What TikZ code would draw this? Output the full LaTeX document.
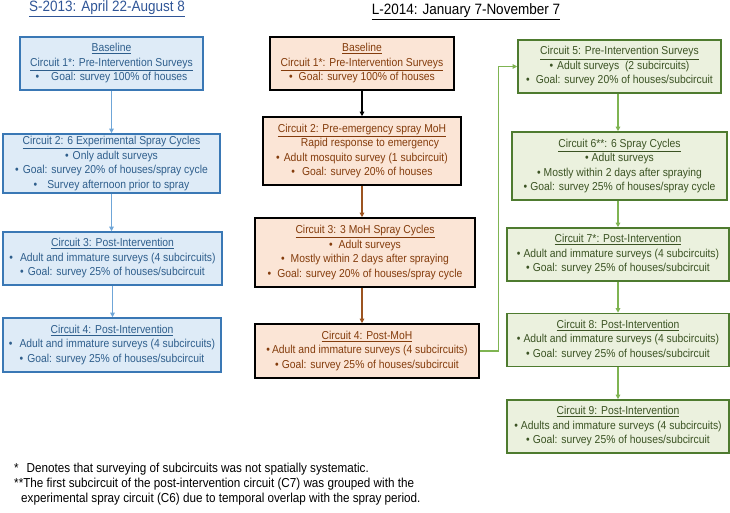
\documentclass[tikz,border=0pt]{standalone}
\usepackage{fontspec}
\setmainfont[FakeStretch=0.9]{Liberation Sans}
\usepackage{tikz}
\usetikzlibrary{arrows.meta}

\definecolor{sfill}{HTML}{DEEBF7}
\definecolor{sline}{HTML}{3A78B5}
\definecolor{stext}{HTML}{2E5E8C}
\definecolor{stitle}{HTML}{2F5597}
\definecolor{sarrow}{HTML}{6FA6D8}
\definecolor{lfill}{HTML}{FBE5D6}
\definecolor{ltext}{HTML}{843C0C}
\definecolor{larrow}{HTML}{9C5420}
\definecolor{gfill}{HTML}{EBF1DE}
\definecolor{gline}{HTML}{4E7B2F}
\definecolor{gtext}{HTML}{3B5323}
\definecolor{garrow}{HTML}{7FB452}

\newcommand{\bt}[1][4pt]{\textbullet\hspace{#1}}

\begin{document}
\begin{tikzpicture}[x=1pt,y=-1pt,
	box/.style={draw, line width=1.6pt, align=center, inner sep=0pt, font=\fontsize{11.5}{14.5}\selectfont},
	sbox/.style={box, draw=sline, fill=sfill, text=stext},
	lbox/.style={box, draw=black, fill=lfill, text=ltext},
	gbox/.style={box, draw=gline, fill=gfill, text=gtext},
	link/.style={-{Triangle[length=4.5pt,width=4.5pt]}, line width=1.3pt}]
	\useasboundingbox (0,0) rectangle (730,513);
	% titles
	\node (stitle) at (107,9) [text=stitle, font=\fontsize{15}{17}\selectfont] {\underline{S-2013: April 22-August 8}};
	\node (ltitle) at (466,12) [font=\fontsize{15}{17}\selectfont] {\underline{L-2014: January 7-November 7}};
	% S-2013 column
	\node (s1) at (111.5,63.5) [sbox, minimum width=183, minimum height=53] {\underline{Baseline}\\ \underline{Circuit 1*: Pre-Intervention Surveys}\\ \bt[12pt]Goal: survey 100\% of houses};
	\node (s2) at (111.5,163.5) [sbox, minimum width=217, minimum height=59] {\underline{Circuit 2: 6 Experimental Spray Cycles}\\ \bt Only adult surveys\\ \bt Goal: survey 20\% of houses/spray cycle\\ \bt[10pt]Survey afternoon prior to spray};
	\node (s3) at (112.5,258.5) [sbox, minimum width=219, minimum height=53] {\underline{Circuit 3: Post-Intervention}\\ \bt[7pt]Adult and immature surveys (4 subcircuits)\\ \bt Goal: survey 25\% of houses/subcircuit};
	\node (s4) at (112,345) [sbox, minimum width=218, minimum height=54] {\underline{Circuit 4: Post-Intervention}\\ \bt[7pt]Adult and immature surveys (4 subcircuits)\\ \bt Goal: survey 25\% of houses/subcircuit};
	\draw[link, sarrow] (s1.south) -- (s1.south |- s2.north);
	\draw[link, sarrow] (s2.south) -- (s2.south |- s3.north);
	\draw[link, sarrow] (s3.south) -- (s3.south |- s4.north);
	% L-2014 first column
	\node (l1) at (362,63.5) [lbox, minimum width=184, minimum height=53] {\underline{Baseline}\\ \underline{Circuit 1*: Pre-Intervention Surveys}\\ \bt[6pt]Goal: survey 100\% of houses};
	\node (l2) at (362,151) [lbox, minimum width=198, minimum height=68] {\underline{Circuit 2: Pre-emergency spray MoH}\\ \hspace*{16pt}Rapid response to emergency\\ \bt Adult mosquito survey (1 subcircuit)\\ \bt[7pt]Goal: survey 20\% of houses};
	\node (l3) at (365,252.5) [lbox, minimum width=220, minimum height=69] {\underline{Circuit 3: 3 MoH Spray Cycles}\\ \bt[6pt]Adult surveys\\ \bt[6pt]Mostly within 2 days after spraying\\ \bt[6pt]Goal: survey 20\% of houses/spray cycle};
	\node (l4) at (367,351) [lbox, minimum width=224, minimum height=54] {\underline{Circuit 4: Post-MoH}\\ \bt[2pt]Adult and immature surveys (4 subcircuits)\\ \bt[3pt]Goal: survey 25\% of houses/subcircuit};
	\draw[link, black] (l1.south) -- (l1.south |- l2.north);
	\draw[link, larrow] (l2.south) -- (l2.south |- l3.north);
	\draw[link, larrow] (l3.south -| l2.south) -- (l2.south |- l4.north);
	% L-2014 second column
	\node (g1) at (619.5,66.5) [gbox, minimum width=203, minimum height=53] {\underline{Circuit 5: Pre-Intervention Surveys}\\ \bt Adult surveys\ \ (2 subcircuits)\\ \bt[6pt]Goal: survey 20\% of houses/subcircuit};
	\node (g2) at (619.5,166) [gbox, minimum width=215, minimum height=68] {\underline{Circuit 6**: 6 Spray Cycles}\\ \bt[3pt]Adult surveys\\ \bt[3pt]Mostly within 2 days after spraying\\ \bt[3pt]Goal: survey 25\% of houses/spray cycle};
	\node (g3) at (618,254.5) [gbox, minimum width=222, minimum height=53] {\underline{Circuit 7*: Post-Intervention}\\ \bt[3pt]Adult and immature surveys (4 subcircuits)\\ \bt[3pt]Goal: survey 25\% of houses/subcircuit};
	\node (g4) at (618,340) [gbox, minimum width=222, minimum height=53] {\underline{Circuit 8: Post-Intervention}\\ \bt[3pt]Adult and immature surveys (4 subcircuits)\\ \bt[3pt]Goal: survey 25\% of houses/subcircuit};
	\node (g5) at (618,426.5) [gbox, minimum width=222, minimum height=53] {\underline{Circuit 9: Post-Intervention}\\ \bt[3pt]Adults and immature surveys (4 subcircuits)\\ \bt[3pt]Goal: survey 25\% of houses/subcircuit};
	\draw[link, garrow] (g1.south -| g3.south) -- (g3.south |- g2.north);
	\draw[link, garrow] (g2.south -| g3.south) -- (g3.south |- g3.north);
	\draw[link, garrow] (g3.south) -- (g4.north);
	\draw[link, garrow] (g4.south) -- (g5.north);
	\draw[link, garrow] (l4.east) -- ++(19,0) |- (g1.west);
	% footnotes
	\node (notes) at (14,463) [anchor=north west, align=left, inner sep=0pt, font=\fontsize{13}{15}\selectfont] {*\hspace{8pt}Denotes that surveying of subcircuits was not spatially systematic.\\ **The first subcircuit of the post-intervention circuit (C7) was grouped with the\\ \hspace*{7pt}experimental spray circuit (C6) due to temporal overlap with the spray period.};
\end{tikzpicture}
\end{document}
